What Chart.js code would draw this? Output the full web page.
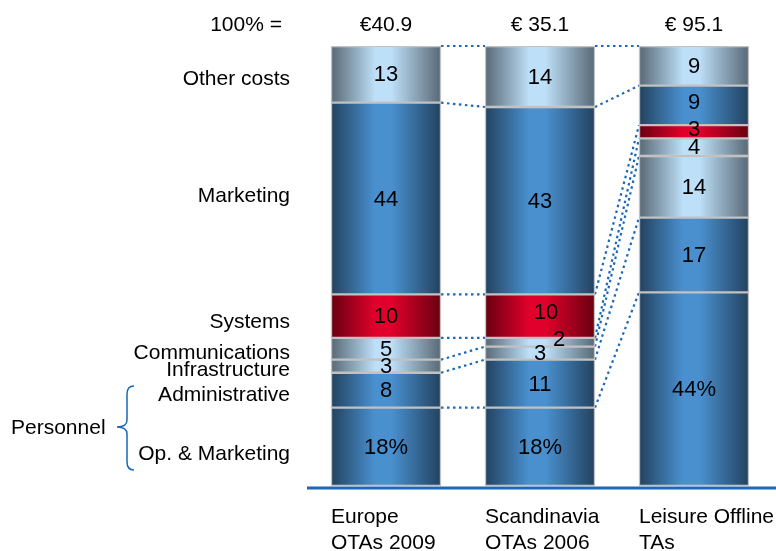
<!DOCTYPE html>
<html>
<head>
<meta charset="utf-8">
<script src="https://cdn.jsdelivr.net/npm/chart.js@4.4.0/dist/chart.umd.min.js"></script>
<style>
  html, body { margin: 0; padding: 0; background: #ffffff; }
  #wrap { width: 776px; height: 551px; position: relative; }
</style>
</head>
<body>
<div id="wrap"><canvas id="c" width="776" height="551"></canvas></div>
<script>
// ---------- DATA ----------
const categories = [['Europe', 'OTAs 2009'], ['Scandinavia', 'OTAs 2006'], ['Leisure Offline', 'TAs']];
const totals = ['€40.9', '€ 35.1', '€ 95.1'];
const totalLabel = '100% =';
const segmentNames = ['Op. & Marketing', 'Administrative', 'Infrastructure', 'Communications', 'Systems', 'Marketing', 'Other costs'];
const opMarketing    = [18, 18, 44];
const administrative = [8, 11, 17];
const infrastructure = [3, 3, 14];
const communications = [5, 2, 4];
const systems        = [10, 10, 3];
const marketing      = [44, 43, 9];
const otherCosts     = [13, 14, 9];
const groupLabel = 'Personnel';

// ---------- STYLES ----------
const series = [opMarketing, administrative, infrastructure, communications, systems, marketing, otherCosts];
const palettes = {
  blue: ['#22425f', '#4a90cf'],
  grey: ['#586875', '#bddff7'],
  red:  ['#680010', '#e0002b']
};
const seriesPalette = ['blue', 'blue', 'grey', 'grey', 'red', 'blue', 'grey'];
const leftLabelDy = [7, 5, 4, 4, 6, -2, 5];
const valueOffsets = { '4,1': [6, -4], '3,1': [19, -3], '5,2': [0, -3], '4,2': [0, -3] };
const BAR_W = 110;
const FONT = '"Liberation Sans", Arial, Helvetica, sans-serif';
const LINE_BLUE = '#1a68b6';

const barSums = categories.map((_, i) => series.reduce((s, arr) => s + arr[i], 0));

function makeGradient(ctx) {
  const chart = ctx.chart;
  const pal = palettes[seriesPalette[ctx.datasetIndex]];
  const xs = chart.scales && chart.scales.x;
  if (!xs || ctx.dataIndex === undefined) return pal[1];
  const cx = xs.getPixelForValue(ctx.dataIndex);
  if (!isFinite(cx)) return pal[1];
  const g = chart.ctx.createLinearGradient(cx - BAR_W / 2, 0, cx + BAR_W / 2, 0);
  g.addColorStop(0, pal[0]);
  g.addColorStop(0.4, pal[1]);
  g.addColorStop(0.55, pal[1]);
  g.addColorStop(1, pal[0]);
  return g;
}

const datasets = series.map((arr, k) => ({
  label: segmentNames[k],
  data: arr.map((v, i) => v / barSums[i] * 100),
  raw: arr,
  backgroundColor: makeGradient,
  borderColor: '#c2c2c2',
  borderWidth: 1.5,
  borderSkipped: false,
  barThickness: BAR_W
}));

// ---------- PLUGINS ----------
const connectors = {
  id: 'connectors',
  beforeDatasetsDraw(chart) {
    const c = chart.ctx;
    c.save();
    c.strokeStyle = LINE_BLUE;
    c.lineWidth = 2.2;
    c.setLineDash([2.5, 3.5]);
    chart.data.datasets.forEach((ds, k) => {
      const els = chart.getDatasetMeta(k).data;
      for (let i = 0; i < els.length - 1; i++) {
        const a = els[i], b = els[i + 1];
        c.beginPath();
        c.moveTo(a.x + BAR_W / 2, a.y);
        c.lineTo(b.x - BAR_W / 2, b.y);
        c.stroke();
      }
    });
    c.restore();
  }
};

const decorations = {
  id: 'decorations',
  afterDatasetsDraw(chart) {
    const c = chart.ctx;
    const area = chart.chartArea;
    c.save();
    c.fillStyle = '#000';
    c.font = '22px ' + FONT;
    c.textAlign = 'center';
    c.textBaseline = 'middle';
    chart.data.datasets.forEach((ds, k) => {
      chart.getDatasetMeta(k).data.forEach((el, i) => {
        const off = valueOffsets[k + ',' + i] || [0, 0];
        const txt = ds.raw[i] + (k === 0 ? '%' : '');
        c.fillText(txt, el.x + off[0], (el.y + el.base) / 2 + off[1] + 1);
      });
    });
    c.font = '21px ' + FONT;
    c.textBaseline = 'alphabetic';
    const xs = chart.scales.x;
    totals.forEach((t, i) => c.fillText(t, xs.getPixelForValue(i), 31));
    c.textAlign = 'right';
    c.fillText(totalLabel, 282, 31);
    c.textBaseline = 'middle';
    chart.data.datasets.forEach((ds, k) => {
      const el = chart.getDatasetMeta(k).data[0];
      c.fillText(ds.label, 290, (el.y + el.base) / 2 + leftLabelDy[k]);
    });
    c.textAlign = 'left';
    c.fillText(groupLabel, 11, 428);
    c.strokeStyle = LINE_BLUE;
    c.lineWidth = 1.5;
    c.beginPath();
    c.moveTo(134, 386);
    c.quadraticCurveTo(127, 386, 127, 394);
    c.lineTo(127, 420);
    c.quadraticCurveTo(127, 427, 117, 427);
    c.quadraticCurveTo(127, 427, 127, 434);
    c.lineTo(127, 462);
    c.quadraticCurveTo(127, 470, 134, 470);
    c.stroke();
    c.lineWidth = 3;
    c.beginPath();
    c.moveTo(307, area.bottom + 2);
    c.lineTo(776, area.bottom + 2);
    c.stroke();
    c.fillStyle = '#000';
    c.font = '21px ' + FONT;
    c.textAlign = 'left';
    c.textBaseline = 'alphabetic';
    categories.forEach((lines, i) => {
      const x = xs.getPixelForValue(i) - BAR_W / 2;
      lines.forEach((ln, j) => c.fillText(ln, x, 523 + j * 26));
    });
    c.restore();
  }
};

new Chart(document.getElementById('c'), {
  type: 'bar',
  data: { labels: categories.map(l => l.join(' ')), datasets },
  options: {
    responsive: false,
    animation: false,
    layout: { padding: { left: 309, right: 5, top: 46, bottom: 65 } },
    plugins: { legend: { display: false }, tooltip: { enabled: false } },
    scales: {
      x: { stacked: true, display: false },
      y: { stacked: true, display: false, min: 0, max: 100 }
    }
  },
  plugins: [connectors, decorations]
});
</script>
</body>
</html>
